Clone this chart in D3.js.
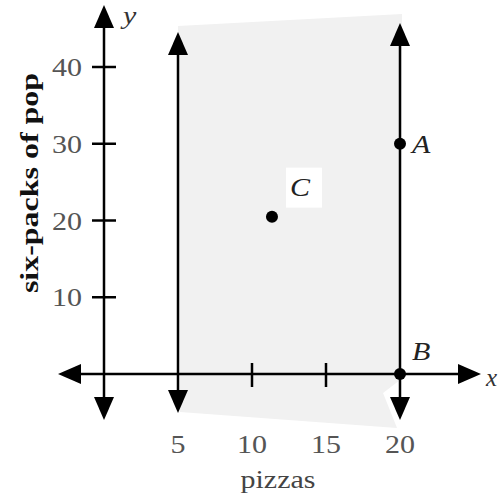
<!DOCTYPE html>
<html>
<head>
<meta charset="utf-8">
<script src="https://cdn.jsdelivr.net/npm/d3@7"></script>
<style>
  html, body { margin: 0; padding: 0; background: #fff; }
  svg { display: block; }
</style>
</head>
<body>
<svg id="chart" width="501" height="497"></svg>
<script>
// Feasible region bounds on pizzas
const boundaryX = [5, 20];
// Labelled points: [pizzas, six-packs]
const pointNames = ["A", "B", "C"];
const pointX = [20, 20, 11.35];
const pointY = [30, 0, 20.5];
// Tick values and labels
const xTicks = [5, 10, 15, 20];
const yTicks = [10, 20, 30, 40];

const svg = d3.select("#chart");
const x = d3.scaleLinear().domain([0, 20]).range([104, 400]);
const y = d3.scaleLinear().domain([0, 40]).range([374, 67]);

const serif = "'Liberation Serif', 'DejaVu Serif', serif";
const fs = 25;
const wide = 1.2; // horizontal stretch of the serif glyphs

// Text helper: anchored at (px, py), glyphs stretched horizontally
function label(px, py, str, opts = {}) {
  const g = svg.append("g")
    .attr("transform", `translate(${px},${py}) rotate(${opts.rotate || 0}) scale(${opts.sx || wide},1)`);
  return g.append("text")
    .attr("text-anchor", opts.anchor || "start")
    .attr("font-family", serif)
    .attr("font-size", opts.size || fs)
    .attr("font-weight", opts.weight || "normal")
    .attr("font-style", opts.style || "normal")
    .attr("fill", opts.fill || "#555")
    .text(str);
}

// Shaded region between the two boundary lines
const x0 = x(boundaryX[0]), x1 = x(boundaryX[1]), y0 = y(0);
svg.append("polygon")
  .attr("points", [
    [x0, 26], [x1 + 2, 14], [x1, y0 + 6], [x1 - 17, y0 + 19],
    [x1 - 3, y0 + 54], [x0 + 2, y0 + 38]
  ].map(p => p.join(",")).join(" "))
  .attr("fill", "#f1f1f1");

// Arrow heads
function arrow(tx, ty, dir) {
  const L = 23, W = 10;
  let pts;
  if (dir === "up") pts = [[tx, ty], [tx - W, ty + L], [tx + W, ty + L]];
  if (dir === "down") pts = [[tx, ty], [tx - W, ty - L], [tx + W, ty - L]];
  if (dir === "left") pts = [[tx, ty], [tx + L, ty - W], [tx + L, ty + W]];
  if (dir === "right") pts = [[tx, ty], [tx - L, ty - W], [tx - L, ty + W]];
  svg.append("polygon").attr("points", pts.map(p => p.join(",")).join(" ")).attr("fill", "#000");
}

const line = (xa, ya, xb, yb) => svg.append("line")
  .attr("x1", xa).attr("y1", ya).attr("x2", xb).attr("y2", yb)
  .attr("stroke", "#000").attr("stroke-width", 2.5);

// Axes
line(70, y0, 468, y0);
arrow(58, y0, "left");
arrow(481, y0, "right");
line(x(0), 20, x(0), 405);
arrow(x(0), 5, "up");
arrow(x(0), 420, "down");

// Boundary lines x = 5 and x = 20
line(x0, 45, x0, 400);
arrow(x0, 32, "up");
arrow(x0, 413, "down");
line(x1, 36, x1, 405);
arrow(x1, 23, "up");
arrow(x1, 420, "down");

// Tick marks
xTicks.filter(v => !boundaryX.includes(v)).forEach(v => line(x(v), y0 - 11, x(v), y0 + 13));
yTicks.forEach(v => line(x(0) - 12, y(v), x(0) + 12, y(v)));

// Tick labels
xTicks.forEach(v => label(x(v), 453, v, { anchor: "middle" }));
yTicks.forEach(v => label(82, y(v) + 9, v, { anchor: "end" }));

// Axis titles
label(278, 488, "pizzas", { anchor: "middle", fill: "#444" });
label(38, 183, "six-packs of pop", { anchor: "middle", rotate: -90, sx: 1.23, size: 26, weight: "bold", fill: "#111" });

// Axis variable names
label(123, 24, "y", { style: "italic", fill: "#333" });
label(486, 386, "x", { style: "italic", fill: "#333", sx: 1 });

// Points
const pts = pointNames.map((n, i) => ({ n, px: pointX[i], py: pointY[i] }));
svg.selectAll(".pt").data(pts).enter().append("circle")
  .attr("cx", d => x(d.px)).attr("cy", d => y(d.py)).attr("r", 6)
  .attr("fill", "#000");

// Point labels
const labelOffset = { A: [12, 9], B: [12, -14], C: [18, -21] };
pts.forEach(d => {
  const [dx, dy] = labelOffset[d.n];
  const lx = x(d.px) + dx, ly = y(d.py) + dy;
  if (d.n === "C") {
    svg.append("rect").attr("x", lx - 4).attr("y", ly - 28)
      .attr("width", 36).attr("height", 40).attr("fill", "#fff");
  }
  label(lx, ly, d.n, { style: "italic", fill: "#222" });
});
</script>
</body>
</html>
